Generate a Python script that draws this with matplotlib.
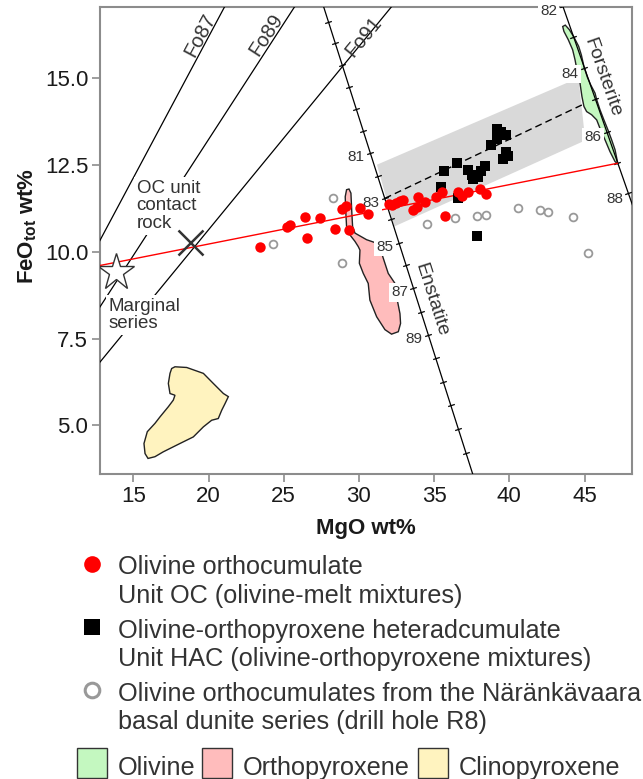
import numpy as np
import matplotlib
matplotlib.use('Agg')
import matplotlib.pyplot as plt
from matplotlib.lines import Line2D
from matplotlib.patches import Polygon, Rectangle
from matplotlib.ticker import FormatStrFormatter

plt.rcParams['font.family'] = ['Liberation Sans', 'DejaVu Sans']
plt.rcParams['mathtext.default'] = 'regular'

TXT = '#333333'

# --- samples -------------------------------------------------------------
oc_mgo = [23.42, 25.20, 25.45, 26.42, 26.53, 27.41, 28.41, 28.85, 29.12, 29.34,
          30.10, 30.63, 32.00, 32.20, 32.45, 32.70, 32.90, 33.60, 33.85, 33.95,
          34.40, 35.15, 35.50, 35.72, 36.60, 36.85, 37.27, 38.05, 38.45]
oc_feo = [10.15, 10.73, 10.77, 11.01, 10.39, 10.97, 10.65, 11.23, 11.32, 10.63,
          11.25, 11.09, 11.38, 11.36, 11.41, 11.46, 11.50, 11.21, 11.28, 11.57,
          11.44, 11.59, 11.71, 11.04, 11.73, 11.60, 11.71, 11.80, 11.67]

hac_mgo = [39.20, 39.45, 39.80, 39.20, 38.80, 39.80, 39.90, 39.60, 36.50, 35.65,
           35.45, 37.25, 37.50, 37.60, 37.90, 38.10, 38.40, 36.60, 37.85]
hac_feo = [13.54, 13.44, 13.36, 13.26, 13.08, 12.89, 12.76, 12.66, 12.56, 12.34,
           11.86, 12.36, 12.21, 12.11, 12.16, 12.34, 12.46, 11.54, 10.46]

r8_mgo = [24.27, 28.30, 28.85, 34.50, 36.39, 37.83, 38.45, 40.60, 42.04, 42.59, 44.21, 45.25]
r8_feo = [10.23, 11.54, 9.67, 10.80, 10.97, 11.04, 11.06, 11.26, 11.21, 11.16, 11.00, 9.96]

marginal_mgo, marginal_feo = 13.83, 9.42
contact_mgo, contact_feo = 18.77, 10.29

# --- reference lines -----------------------------------------------------
# olivine-melt equilibrium lines FeO = slope * MgO + intercept
fo_names = ['Fo87', 'Fo89', 'Fo91']
fo_slope = [0.812, 0.668, 0.528]
fo_intercept = [-0.05, -0.125, 0.075]
fo_label_mgo = [19.43, 23.87, 30.29]
fo_label_feo = [16.25, 16.25, 16.20]

# enstatite composition line, ticks every Mg# unit
en_number = list(range(75, 95))
en_mgo = [27.97, 28.43, 28.90, 29.36, 29.82, 30.29, 30.75, 31.24, 31.72, 32.16,
          32.66, 33.13, 33.62, 34.12, 34.61, 35.11, 35.60, 36.10, 36.61, 37.11]
en_feo = [16.63, 16.01, 15.37, 14.74, 14.12, 13.48, 12.86, 12.19, 11.54, 10.94,
          10.26, 9.62, 8.95, 8.28, 7.60, 6.93, 6.26, 5.59, 4.90, 4.22]
en_labelled = [81, 83, 85, 87, 89]
en_line_mgo = [27.58, 37.67]
en_line_feo = [17.16, 3.46]

# forsterite composition line
fo_number = [82, 83, 84, 85, 86, 87, 88]
fo_mgo = [43.55, 44.25, 44.97, 45.70, 46.48, 47.18, 47.91]
fo_feo = [17.09, 16.19, 15.29, 14.41, 13.46, 12.55, 11.69]
fo_labelled = [82, 84, 86, 88]
fo_line_mgo = [43.41, 48.30]
fo_line_feo = [17.26, 11.21]

# marginal series -> Fo87 olivine mixing line
mix_mgo = [12.70, 47.18]
mix_feo = [9.60, 12.55]

# HAC envelope and its olivine-orthopyroxene tie line
band_mgo = [31.20, 44.60, 45.05, 32.35]
band_feo = [12.51, 15.01, 13.21, 10.73]
tie_mgo = [31.72, 45.70]
tie_feo = [11.54, 14.41]

# mineral fields
ol_mgo = [43.55, 43.72, 43.99, 44.30, 44.61, 44.79, 44.96, 45.19, 45.41, 45.70, 45.81,
          46.03, 46.29, 46.56, 46.80, 47.03, 47.22, 47.03, 46.69, 46.36, 46.07, 45.81,
          45.47, 45.14, 44.96, 44.83, 44.70, 44.52, 44.37, 44.21, 43.92, 43.63]
ol_feo = [16.49, 16.53, 16.40, 16.18, 15.92, 15.67, 15.34, 15.03, 14.81, 14.57, 14.38,
          14.09, 13.80, 13.51, 13.23, 12.94, 12.53, 12.60, 12.89, 13.23, 13.51, 13.80,
          13.95, 14.04, 14.19, 14.47, 14.86, 15.19, 15.53, 15.82, 16.11, 16.35]

opx_mgo = [29.18, 29.34, 29.47, 29.52, 29.58, 29.74, 30.51, 31.18, 31.51, 31.58, 31.73,
           31.95, 32.40, 32.51, 32.73, 32.77, 32.62, 32.17, 31.73, 31.18, 30.73, 30.62,
           30.29, 30.03, 30.07, 29.96, 29.74, 29.40, 29.18, 29.12, 29.09]
opx_feo = [11.79, 11.81, 11.69, 11.21, 10.73, 10.54, 10.35, 10.25, 10.11, 9.87, 9.67,
           9.38, 9.09, 8.70, 8.22, 7.94, 7.70, 7.63, 7.76, 8.13, 8.61, 9.09,
           9.38, 9.67, 10.05, 10.15, 10.30, 10.49, 10.73, 11.21, 11.59]

cpx_mgo = [17.55, 17.77, 18.55, 19.66, 20.32, 20.99, 21.32, 21.10, 20.88, 20.65, 20.21,
           19.66, 18.99, 18.10, 16.99, 16.44, 15.98, 15.78, 15.71, 15.93, 16.44, 16.78,
           17.33, 17.66, 17.77, 17.44, 17.33, 17.44]
cpx_feo = [6.64, 6.69, 6.67, 6.50, 6.21, 5.92, 5.83, 5.63, 5.44, 5.20, 5.15,
           4.96, 4.67, 4.48, 4.24, 4.10, 4.05, 4.19, 4.48, 4.82, 5.06, 5.25,
           5.54, 5.73, 5.87, 5.92, 6.21, 6.50]

OL_C, OPX_C, CPX_C = '#c4f8c0', '#ffbcbc', '#fff3bf'

W, H = 643, 779
fig = plt.figure(figsize=(W / 100, H / 100), dpi=100)
ax = fig.add_axes([100 / W, 1 - 474 / H, 532 / W, 467 / H])
ax.set_xlim(12.786, 48.157)
ax.set_ylim(3.602, 17.052)


def screen_angle(x0, y0, x1, y1):
    p = ax.transData.transform([(x0, y0), (x1, y1)])
    return np.degrees(np.arctan2(p[1, 1] - p[0, 1], p[1, 0] - p[0, 0]))


box = dict(facecolor='white', edgecolor='none', pad=1.5)

# fields
ax.add_patch(Polygon(list(zip(band_mgo, band_feo)), closed=True,
                     facecolor='#d9d9d9', edgecolor='none', zorder=1))
ax.plot(tie_mgo, tie_feo, color='black', lw=1, ls=(0, (5, 3)), zorder=1.5)
for xs, ys, c in [(ol_mgo, ol_feo, OL_C), (opx_mgo, opx_feo, OPX_C), (cpx_mgo, cpx_feo, CPX_C)]:
    ax.add_patch(Polygon(list(zip(xs, ys)), closed=True, facecolor=c,
                         edgecolor='#222222', lw=1, zorder=2))

# Fo lines
xx = np.array([0, 60])
for name, k, b, lx, ly in zip(fo_names, fo_slope, fo_intercept, fo_label_mgo, fo_label_feo):
    ax.plot(xx, k * xx + b, color='black', lw=0.9, zorder=3)
    ang = screen_angle(0, b, 10, 10 * k + b)
    ax.text(lx, ly, name, rotation=ang, rotation_mode='anchor', ha='center', va='center',
            fontsize=14.5, color=TXT, zorder=4)

# mineral composition lines
ax.plot(en_line_mgo, en_line_feo, color='black', lw=0.9, zorder=3)
ax.plot(fo_line_mgo, fo_line_feo, color='black', lw=0.9, zorder=3)
en_ang = screen_angle(en_line_mgo[0], en_line_feo[0], en_line_mgo[1], en_line_feo[1])
fo_ang = screen_angle(fo_line_mgo[0], fo_line_feo[0], fo_line_mgo[1], fo_line_feo[1])
ax.plot(en_mgo, en_feo, ls='none', marker=(2, 0, en_ang), ms=5, mew=0.9, color='black', zorder=3)
ax.plot(fo_mgo, fo_feo, ls='none', marker=(2, 0, fo_ang), ms=5, mew=0.9, color='black', zorder=3)

for n, x, y in zip(en_number, en_mgo, en_feo):
    if n in en_labelled:
        ax.annotate(str(n), (x, y), xytext=(-10, -3), textcoords='offset points',
                    ha='center', va='center', fontsize=11, color=TXT, bbox=box,
                    annotation_clip=False, zorder=4)
for n, x, y in zip(fo_number, fo_mgo, fo_feo):
    if n in fo_labelled:
        ax.annotate(str(n), (x, y), xytext=(-10, -4), textcoords='offset points',
                    ha='center', va='center', fontsize=11, color=TXT, bbox=box,
                    annotation_clip=False, zorder=4)

ax.text(34.78, 8.61, 'Enstatite', rotation=en_ang, rotation_mode='anchor',
        ha='center', va='center', fontsize=14, color=TXT, zorder=4)
ax.text(46.20, 15.03, 'Forsterite', rotation=fo_ang, rotation_mode='anchor',
        ha='center', va='center', fontsize=14, color=TXT, zorder=4)

# mixing line
ax.plot(mix_mgo, mix_feo, color='#ff0000', lw=1, zorder=3)

# annotations
ax.text(15.22, 11.33, 'OC unit\ncontact\nrock', ha='left', va='center', fontsize=13.5,
        linespacing=1.05, color=TXT, bbox=dict(facecolor='white', edgecolor='none', pad=2), zorder=4)
ax.text(13.34, 8.18, 'Marginal\nseries', ha='left', va='center', fontsize=13.5,
        linespacing=1.05, color=TXT, bbox=dict(facecolor='white', edgecolor='none', pad=2), zorder=4)

ax.plot(contact_mgo, contact_feo, marker='x', ms=18, mew=1.8, color=TXT, ls='none', zorder=5)
ax.plot(marginal_mgo, marginal_feo, marker='*', ms=28, mew=1, mfc='white', mec=TXT, ls='none', zorder=5)

# samples
ax.plot(r8_mgo, r8_feo, 'o', ms=5.6, mfc='white', mec='#999999', mew=1.3, zorder=5)
ax.plot(hac_mgo, hac_feo, 's', ms=6.5, color='black', mew=0, zorder=5)
ax.plot(oc_mgo, oc_feo, 'o', ms=7.5, color='#ff0000', mew=0, zorder=6)

# axes styling
ax.set_xticks([15, 20, 25, 30, 35, 40, 45])
ax.set_yticks([5.0, 7.5, 10.0, 12.5, 15.0])
ax.yaxis.set_major_formatter(FormatStrFormatter('%.1f'))
for s in ax.spines.values():
    s.set_color('#8c8c8c')
    s.set_linewidth(1.5)
ax.tick_params(direction='out', length=5.5, width=1.2, color='#8c8c8c',
               labelsize=16, labelcolor='#1a1a1a', pad=3)
ax.set_xlabel('MgO wt%', fontsize=16, fontweight='bold', color='#1a1a1a')
ax.set_ylabel('FeO$_{tot}$ wt%', fontsize=16, fontweight='bold', color='#1a1a1a')
ax.xaxis.set_label_coords(0.5, -0.116)
ax.xaxis.label.set_va('center')
ax.yaxis.set_label_coords(-0.135, 0.53)
ax.yaxis.label.set_va('center')

# legend below the plot (pixel layout converted to figure fractions)
def fxy(px, py):
    return px / W, 1 - py / H

legend_labels = [
    ['Olivine orthocumulate', 'Unit OC (olivine-melt mixtures)'],
    ['Olivine-orthopyroxene heteradcumulate', 'Unit HAC (olivine-orthopyroxene mixtures)'],
    ['Olivine orthocumulates from the Näränkävaara', 'basal dunite series (drill hole R8)'],
]
legend_styles = [
    dict(marker='o', ms=12, color='#ff0000', mew=0),
    dict(marker='s', ms=12, color='black', mew=0),
    dict(marker='o', ms=10.5, mfc='white', mec='#999999', mew=2.2),
]
for i, (lines, st) in enumerate(zip(legend_labels, legend_styles)):
    y0 = 563.5 + i * 63.3
    mx, my = fxy(91.7, y0)
    fig.add_artist(Line2D([mx], [my], transform=fig.transFigure, ls='none', **st))
    for j, line in enumerate(lines):
        tx, ty = fxy(118.3, y0 + 11 + j * 28)
        fig.text(tx, ty, line, ha='left', va='baseline', fontsize=18.2, color=TXT)

patch_labels = ['Olivine', 'Orthopyroxene', 'Clinopyroxene']
patch_colors = [OL_C, OPX_C, CPX_C]
patch_left = [77, 202, 418]
for lab, c, px in zip(patch_labels, patch_colors, patch_left):
    x0, y0 = fxy(px, 778)
    fig.add_artist(Rectangle((x0, y0), 30 / W, 30 / H, transform=fig.transFigure,
                             facecolor=c, edgecolor='#333333', lw=1))
    tx, ty = fxy(px + 41, 775)
    fig.text(tx, ty, lab, ha='left', va='baseline', fontsize=18.2, color=TXT)

fig.savefig('out.png', dpi=100)
